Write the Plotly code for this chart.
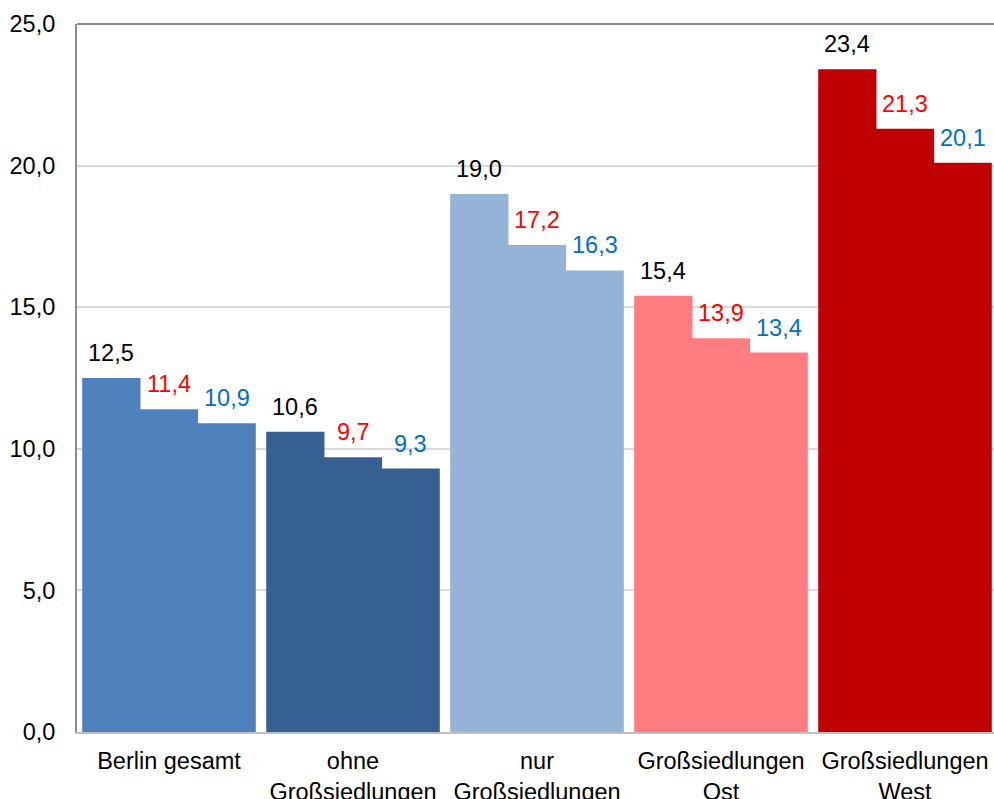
import plotly.graph_objects as go

categories = ["Berlin gesamt", "ohne<br>Großsiedlungen", "nur<br>Großsiedlungen",
              "Großsiedlungen<br>Ost", "Großsiedlungen<br>West"]
series_1 = [12.5, 10.6, 19.0, 15.4, 23.4]
series_2 = [11.4, 9.7, 17.2, 13.9, 21.3]
series_3 = [10.9, 9.3, 16.3, 13.4, 20.1]
group_colors = ["#4F81BD", "#376092", "#95B3D7", "#FF7C80", "#C00000"]
label_colors = ["#000000", "#FF0000", "#0070C0"]
y_ticks = [0, 5, 10, 15, 20, 25]

FONT = "Liberation Sans, Arial, sans-serif"
FS = 23.5
bar_w = 0.3134
offsets = [-bar_w, 0.0, bar_w]
xs = list(range(len(categories)))

fig = go.Figure()
annotations = []
for k, vals in enumerate([series_1, series_2, series_3]):
    xpos = [i + offsets[k] for i in xs]
    fig.add_trace(go.Bar(
        x=xpos, y=vals, width=[bar_w * 1.01] * len(vals),
        marker=dict(color=group_colors, line=dict(width=0)),
        showlegend=False, hoverinfo="y",
    ))
    for xp, v in zip(xpos, vals):
        annotations.append(dict(
            x=xp, y=v, xref="x", yref="y",
            text=f"{v:.1f}".replace(".", ","),
            showarrow=False, yanchor="middle", yshift=25,
            font=dict(family=FONT, size=FS, color=label_colors[k]),
        ))

fig.update_layout(
    width=994, height=799,
    margin=dict(l=77, r=0, t=24, b=67),
    paper_bgcolor="white", plot_bgcolor="white",
    barmode="overlay",
    separators=",.",
    font=dict(family=FONT, size=FS, color="#000000"),
    annotations=annotations,
    shapes=[dict(type="line", xref="paper", yref="paper", x0=0, x1=1, y0=1, y1=1,
                 line=dict(color="#8C8C8C", width=2))],
)
fig.update_xaxes(
    range=[-0.5, -0.5 + 917 / 184], tickvals=xs, ticktext=categories,
    showgrid=False, zeroline=False, showline=True, linecolor="#BFBFBF", linewidth=2,
    ticks="", ticklabelstandoff=7, automargin=False,
    tickfont=dict(family=FONT, size=FS, color="#000000"),
)
fig.update_yaxes(
    range=[0, 25], tickvals=y_ticks, tickformat=".1f",
    showgrid=True, gridcolor="#D9D9D9", gridwidth=1.5, zeroline=False,
    showline=True, linecolor="#8C8C8C", linewidth=2,
    ticks="", ticklabelstandoff=15, automargin=False,
    tickfont=dict(family=FONT, size=FS, color="#000000"),
)

fig.write_html("out.html")
